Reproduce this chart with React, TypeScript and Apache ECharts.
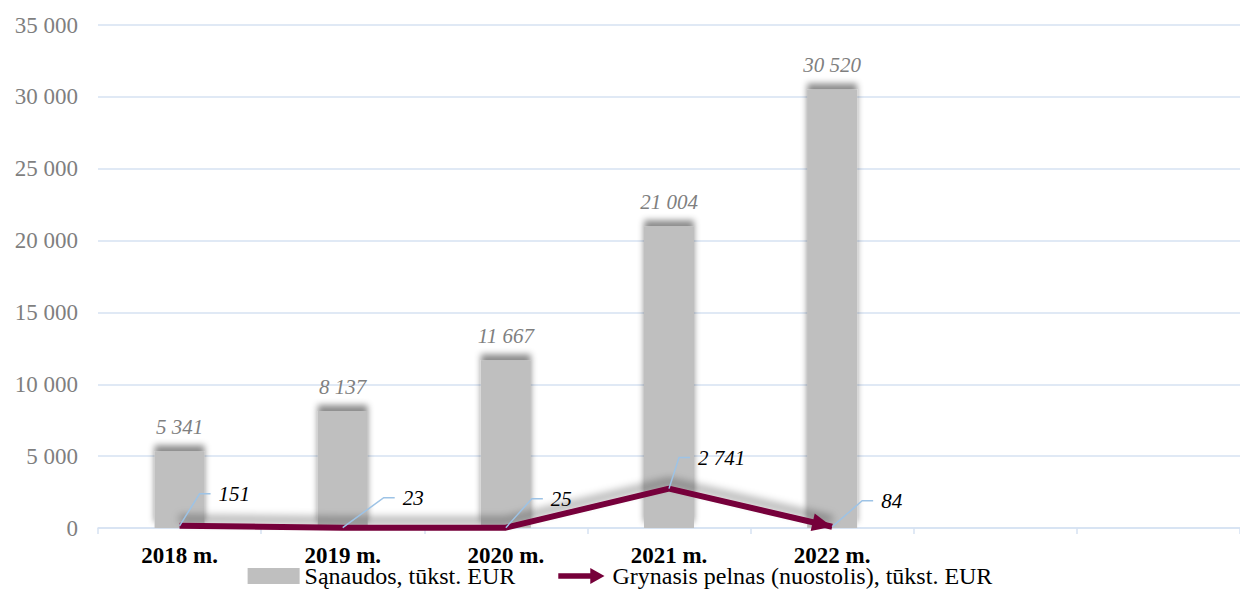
import React, { useEffect, useRef } from 'react';
import * as echarts from 'echarts';

const categories = ['2018 m.', '2019 m.', '2020 m.', '2021 m.', '2022 m.', '', ''];
const costs = [5341, 8137, 11667, 21004, 30520];
const profit = [151, 23, 25, 2741, 84];
const seriesNames = ['Sąnaudos, tūkst. EUR', 'Grynasis pelnas (nuostolis), tūkst. EUR'];
// leader-line bend offsets for the profit labels (style)
const profitLabelLeaders = [[20, -32], [41, -30], [26, -29], [10, -31], [30, -26]];

const FONT = "'Liberation Serif', 'Times New Roman', serif";
const fmt = (v: number) => String(v).replace(/\B(?=(\d{3})+(?!\d))/g, ' ');

export default function App() {
  const ref = useRef<HTMLDivElement>(null);
  useEffect(() => {
    if (!ref.current) return;
    const chart = echarts.init(ref.current, undefined, { renderer: 'svg' });
    const option: any = {
      animation: false,
      backgroundColor: '#ffffff',
      textStyle: { fontFamily: FONT },
      grid: { left: 98, right: -6, top: 25, bottom: 62 },
      legend: {
        bottom: -3,
        left: 'center',
        itemGap: 43,
        itemWidth: 52,
        itemHeight: 16,
        textStyle: { fontFamily: FONT, fontSize: 24, color: '#000' },
        itemStyle: { shadowBlur: 0, shadowColor: 'transparent', shadowOffsetY: 0 },
        data: [
          { name: seriesNames[0], icon: 'rect' },
          { name: seriesNames[1], icon: 'path://M0,6 L36,6 L36,0 L52,9 L36,18 L36,12 L0,12 Z', itemStyle: { color: '#76003a' } },
        ],
      },
      xAxis: {
        type: 'category',
        data: categories,
        boundaryGap: true,
        axisLine: { lineStyle: { color: '#d6e2f2', width: 1.5 } },
        axisTick: { show: true, length: 6, lineStyle: { color: '#d6e2f2', width: 1.5 } },
        axisLabel: { fontFamily: FONT, fontSize: 23, fontWeight: 'bold', color: '#000', margin: 16 },
      },
      yAxis: {
        type: 'value',
        min: 0,
        max: 35000,
        interval: 5000,
        axisLine: { show: false },
        axisTick: { show: false },
        splitLine: { lineStyle: { color: '#d6e2f2', width: 1.5 } },
        axisLabel: { fontFamily: FONT, fontSize: 23, color: '#7f7f7f', margin: 20, formatter: (v: number) => fmt(v) },
      },
      series: [
        {
          name: seriesNames[0],
          type: 'bar',
          data: costs,
          barWidth: 50,
          z: 2,
          itemStyle: { color: '#bfbfbf', shadowBlur: 6, shadowColor: 'rgba(0,0,0,0.45)', shadowOffsetY: -6 },
          label: {
            show: true,
            position: 'top',
            distance: 14,
            fontFamily: FONT,
            fontSize: 21,
            fontStyle: 'italic',
            color: '#7f7f7f',
            formatter: (p: any) => fmt(p.value),
          },
        },
        {
          name: seriesNames[1],
          type: 'line',
          data: profit,
          symbol: 'none',
          z: 3,
          color: '#76003a',
          lineStyle: { color: '#76003a', width: 6, shadowBlur: 8, shadowColor: 'rgba(0,0,0,0.4)', shadowOffsetY: -7 },
        },
        {
          type: 'custom',
          z: 4,
          silent: true,
          data: profit.map((v, i) => [i, v]),
          renderItem: (params: any, api: any) => {
            const i = params.dataIndex;
            const pt = api.coord([api.value(0), api.value(1)]);
            const [x, y] = pt;
            const [bx, by] = profitLabelLeaders[i];
            const children: any[] = [
              {
                type: 'polyline',
                shape: { points: [[x, y], [x + bx, y + by], [x + bx + 11, y + by]] },
                style: { stroke: '#9dc3e6', lineWidth: 1.5, fill: null },
              },
              {
                type: 'text',
                style: {
                  text: fmt(profit[i]),
                  x: x + bx + 19,
                  y: y + by,
                  fill: '#000',
                  font: `italic 21px ${FONT}`,
                  verticalAlign: 'middle',
                  align: 'left',
                },
              },
            ];
            if (i === profit.length - 1 && i > 0) {
              const prev = api.coord([i - 1, profit[i - 1]]);
              const dx = x - prev[0];
              const dy = y - prev[1];
              const len = Math.sqrt(dx * dx + dy * dy);
              const ux = dx / len, uy = dy / len;
              const nx = -uy, ny = ux;
              const L = 20, W = 9;
              const bxp = x - ux * L, byp = y - uy * L;
              children.unshift({
                type: 'polygon',
                shape: { points: [[x, y], [bxp + nx * W, byp + ny * W], [bxp - nx * W, byp - ny * W]] },
                style: { fill: '#76003a' },
              });
            }
            return { type: 'group', children };
          },
        },
      ],
    };
    chart.setOption(option);
    return () => chart.dispose();
  }, []);
  return <div ref={ref} style={{ position: 'fixed', left: 0, top: 0, width: 1240, height: 590 }} />;
}
